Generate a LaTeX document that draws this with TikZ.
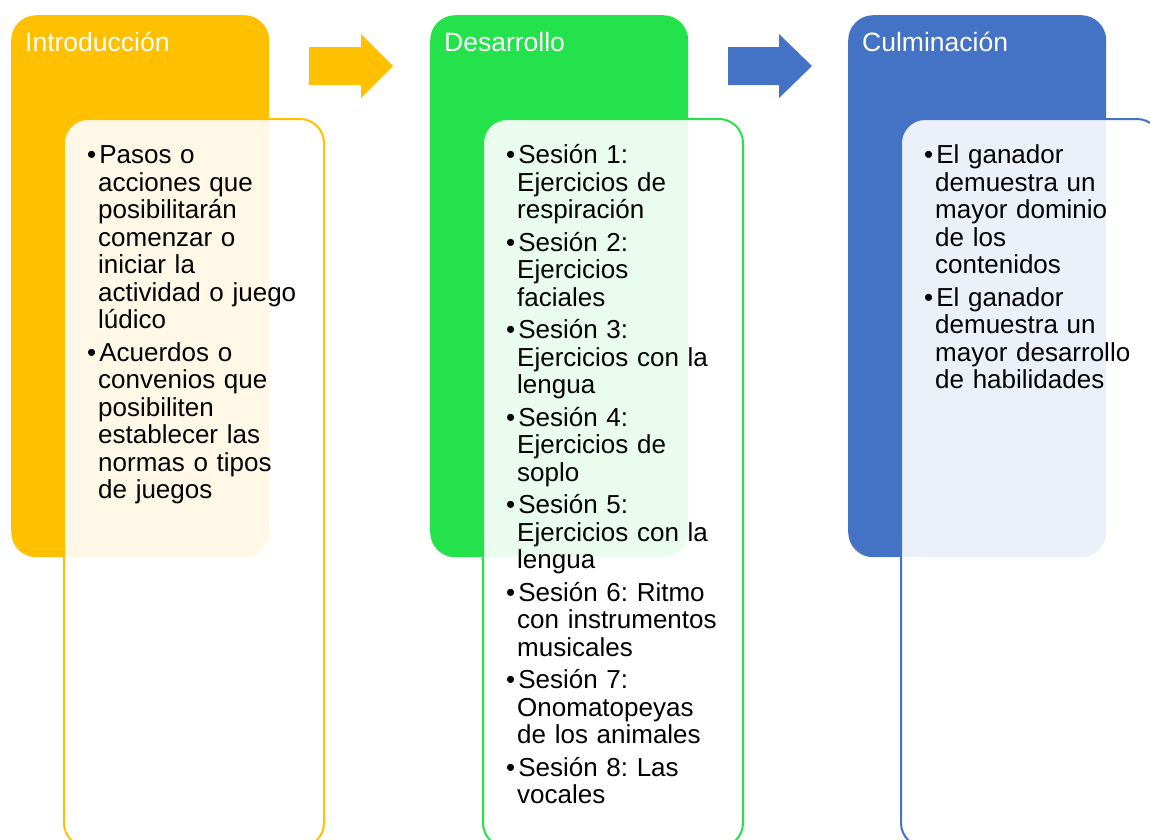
\documentclass[tikz,border=0pt]{standalone}
\usepackage{fontspec}
\setmainfont{Liberation Sans}
\usetikzlibrary{positioning}
\definecolor{intro}{HTML}{FFC000}
\definecolor{desa}{RGB}{36,226,76}
\definecolor{culm}{HTML}{4472C4}
\frenchspacing
\newenvironment{puntos}{\begin{list}{\textbullet}{\setlength\leftmargin{11pt}\setlength\labelwidth{8pt}\setlength\labelsep{3pt}\setlength\itemsep{5pt}\setlength\parsep{0pt}\setlength\topsep{0pt}}}{\end{list}}
\begin{document}
\begin{tikzpicture}[x=1pt,y=-1pt,
	fase/.style={rounded corners=25pt,fill=#1,anchor=north west,minimum width=258pt,minimum height=542pt,inner sep=0},
	detalle/.style={rounded corners=24pt,draw=#1,line width=2pt,fill=white,fill opacity=.9,anchor=north west,minimum width=260pt,minimum height=728pt,inner sep=0},
	titulo/.style={anchor=base west,inner sep=0,text=white,font=\fontsize{26.5}{27.5}\selectfont},
	lista/.style={anchor=base west,inner sep=0,text width=250pt,align=left,font=\fontsize{26}{27.5}\selectfont\frenchspacing}]
	\useasboundingbox (0,0) rectangle (1150,839);
	\clip (0,0) rectangle (1150,839);
	% fases
	\node[fase=intro] (introfase) at (11,15) {};
	\node[fase=desa] (desafase) at (430,15) {};
	\node[fase=culm] (culmfase) at (848,15) {};
	\node[titulo] (introtit) at (25,51) {Introducción};
	\node[titulo] (desatit) at (444,51) {Desarrollo};
	\node[titulo] (culmtit) at (862,51) {Culminación};
	% flechas
	\fill[intro] (309,47)--(361,47)--(361,34)--(393,66)--(361,98)--(361,85)--(309,85)--cycle;
	\fill[culm] (728,47)--(779,47)--(779,34)--(812,66)--(779,98)--(779,85)--(728,85)--cycle;
	% detalles
	\node[detalle=intro] (introdet) at (63,118) {};
	\node[detalle=desa] (desadet) at (482,118) {};
	\node[detalle=culm] (culmdet) at (900,118) {};
	\node[lista] (introtxt) at (87,136) {\begin{puntos}
		\item Pasos o\\acciones que\\posibilitarán\\comenzar o\\iniciar la\\actividad o juego\\lúdico
		\item Acuerdos o\\convenios que\\posibiliten\\establecer las\\normas o tipos\\de juegos
	\end{puntos}};
	\node[lista] (desatxt) at (506,136) {\begin{puntos}
		\item Sesión 1:\\Ejercicios de\\respiración
		\item Sesión 2:\\Ejercicios\\faciales
		\item Sesión 3:\\Ejercicios con la\\lengua
		\item Sesión 4:\\Ejercicios de\\soplo
		\item Sesión 5:\\Ejercicios con la\\lengua
		\item Sesión 6: Ritmo\\con instrumentos\\musicales
		\item Sesión 7:\\Onomatopeyas\\de los animales
		\item Sesión 8: Las\\vocales
	\end{puntos}};
	\node[lista] (culmtxt) at (924,136) {\begin{puntos}
		\item El ganador\\demuestra un\\mayor dominio\\de los\\contenidos
		\item El ganador\\demuestra un\\mayor desarrollo\\de habilidades
	\end{puntos}};
\end{tikzpicture}
\end{document}
